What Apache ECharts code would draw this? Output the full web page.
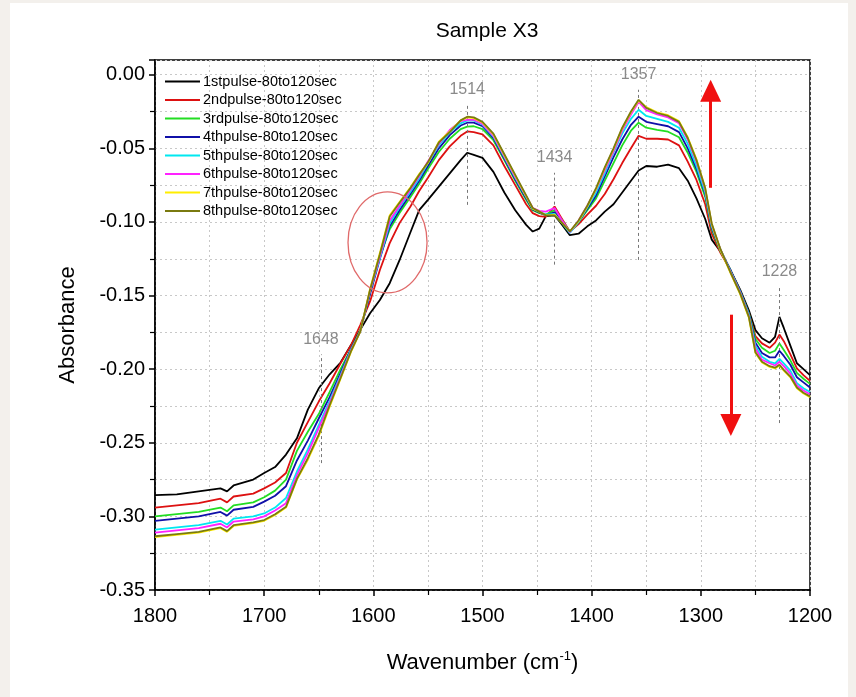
<!DOCTYPE html>
<html>
<head>
<meta charset="utf-8">
<script src="https://cdn.jsdelivr.net/npm/echarts@6/dist/echarts.min.js"></script>
<style>
html,body{margin:0;padding:0;background:#f3f0ec;}
#c{width:856px;height:697px;}
</style>
</head>
<body>
<div id="c"></div>
<script>
// Wavenumbers (cm-1)
const wavenumbers = [1800,1780,1760,1740,1734,1728,1710,1700,1690,1680,1670,1660,1650,1640,1630,1620,1612,1603,1594,1585,1576,1566,1558,1550,1540,1530,1520,1514,1508,1500,1490,1480,1470,1460,1454,1448,1442,1434,1428,1420,1412,1404,1396,1388,1380,1372,1364,1357,1350,1340,1330,1320,1312,1304,1296,1290,1282,1273,1264,1256,1250,1244,1237,1232,1228,1224,1218,1212,1206,1200];

const seriesNames = ["1stpulse-80to120sec","2ndpulse-80to120sec","3rdpulse-80to120sec","4thpulse-80to120sec","5thpulse-80to120sec","6thpulse-80to120sec","7thpulse-80to120sec","8thpulse-80to120sec"];

const pulse1 = [-0.2855,-0.285,-0.283,-0.281,-0.283,-0.279,-0.275,-0.2705,-0.2665,-0.258,-0.247,-0.2275,-0.213,-0.2035,-0.1955,-0.183,-0.1733,-0.162,-0.153,-0.1416,-0.126,-0.107,-0.092,-0.085,-0.076,-0.067,-0.058,-0.053,-0.0545,-0.0565,-0.066,-0.080,-0.092,-0.102,-0.1065,-0.1045,-0.096,-0.0955,-0.101,-0.109,-0.108,-0.103,-0.099,-0.093,-0.088,-0.080,-0.072,-0.065,-0.062,-0.0625,-0.061,-0.0635,-0.072,-0.084,-0.098,-0.112,-0.120,-0.1325,-0.146,-0.160,-0.1735,-0.179,-0.182,-0.178,-0.1645,-0.172,-0.184,-0.196,-0.200,-0.204];
const pulse2 = [-0.294,-0.2925,-0.291,-0.288,-0.2905,-0.2865,-0.2845,-0.281,-0.277,-0.2705,-0.250,-0.236,-0.222,-0.2096,-0.196,-0.183,-0.170,-0.154,-0.1326,-0.1144,-0.1008,-0.0895,-0.079,-0.070,-0.058,-0.0487,-0.0415,-0.0385,-0.039,-0.0405,-0.048,-0.062,-0.075,-0.088,-0.094,-0.096,-0.0965,-0.0895,-0.097,-0.1065,-0.1015,-0.095,-0.089,-0.081,-0.071,-0.060,-0.050,-0.0415,-0.0435,-0.0435,-0.044,-0.048,-0.059,-0.0715,-0.088,-0.108,-0.121,-0.1325,-0.147,-0.162,-0.1775,-0.1825,-0.1855,-0.182,-0.1765,-0.181,-0.190,-0.1995,-0.204,-0.208];
const pulse3 = [-0.300,-0.2985,-0.297,-0.294,-0.2965,-0.2925,-0.2905,-0.287,-0.2825,-0.275,-0.2555,-0.2425,-0.2305,-0.2155,-0.200,-0.1855,-0.1735,-0.148,-0.1235,-0.105,-0.094,-0.083,-0.074,-0.064,-0.0525,-0.0435,-0.037,-0.0353,-0.035,-0.037,-0.0445,-0.058,-0.072,-0.085,-0.092,-0.094,-0.095,-0.092,-0.098,-0.1065,-0.100,-0.092,-0.084,-0.072,-0.060,-0.048,-0.038,-0.0326,-0.036,-0.0375,-0.0387,-0.0425,-0.053,-0.066,-0.083,-0.105,-0.120,-0.1325,-0.147,-0.162,-0.1795,-0.1855,-0.189,-0.1875,-0.1825,-0.187,-0.194,-0.2025,-0.2065,-0.210];
const pulse4 = [-0.303,-0.3015,-0.300,-0.297,-0.2995,-0.2955,-0.2935,-0.290,-0.286,-0.2795,-0.262,-0.2485,-0.2335,-0.219,-0.2025,-0.1855,-0.174,-0.149,-0.125,-0.103,-0.092,-0.081,-0.072,-0.062,-0.050,-0.041,-0.0345,-0.0326,-0.0325,-0.035,-0.043,-0.057,-0.071,-0.084,-0.0915,-0.0935,-0.0955,-0.0935,-0.099,-0.107,-0.100,-0.091,-0.082,-0.069,-0.056,-0.044,-0.034,-0.0285,-0.032,-0.0335,-0.035,-0.039,-0.050,-0.064,-0.081,-0.104,-0.119,-0.1325,-0.147,-0.1625,-0.182,-0.189,-0.192,-0.192,-0.1875,-0.191,-0.197,-0.2055,-0.209,-0.2125];
const pulse5 = [-0.309,-0.3075,-0.306,-0.303,-0.3055,-0.3015,-0.300,-0.298,-0.294,-0.2875,-0.2695,-0.2545,-0.238,-0.2215,-0.204,-0.186,-0.1745,-0.147,-0.1245,-0.101,-0.090,-0.0795,-0.0705,-0.060,-0.048,-0.039,-0.033,-0.031,-0.031,-0.034,-0.042,-0.056,-0.070,-0.083,-0.091,-0.093,-0.095,-0.0945,-0.100,-0.1075,-0.100,-0.090,-0.080,-0.067,-0.053,-0.040,-0.030,-0.0238,-0.028,-0.030,-0.032,-0.036,-0.047,-0.062,-0.080,-0.103,-0.119,-0.133,-0.1475,-0.163,-0.184,-0.1915,-0.195,-0.196,-0.193,-0.196,-0.201,-0.2095,-0.213,-0.2155];
const pulse6 = [-0.311,-0.3095,-0.308,-0.305,-0.3075,-0.3035,-0.302,-0.300,-0.296,-0.291,-0.272,-0.257,-0.240,-0.223,-0.205,-0.1865,-0.1745,-0.1465,-0.1235,-0.099,-0.089,-0.078,-0.069,-0.059,-0.047,-0.0375,-0.0315,-0.0306,-0.0305,-0.0335,-0.0415,-0.0555,-0.0695,-0.0825,-0.0905,-0.0925,-0.093,-0.0905,-0.098,-0.107,-0.099,-0.089,-0.078,-0.065,-0.052,-0.038,-0.027,-0.0185,-0.024,-0.027,-0.029,-0.033,-0.044,-0.059,-0.078,-0.102,-0.119,-0.1335,-0.148,-0.164,-0.186,-0.1935,-0.196,-0.1975,-0.195,-0.198,-0.203,-0.211,-0.2145,-0.217];
const pulse7 = [-0.314,-0.3125,-0.311,-0.308,-0.3105,-0.3065,-0.3045,-0.303,-0.299,-0.294,-0.275,-0.2615,-0.2455,-0.2255,-0.2065,-0.1875,-0.1745,-0.1455,-0.121,-0.0955,-0.0865,-0.0765,-0.0675,-0.060,-0.0455,-0.0385,-0.031,-0.029,-0.0295,-0.0325,-0.0405,-0.0545,-0.0685,-0.0825,-0.091,-0.093,-0.0955,-0.095,-0.100,-0.1065,-0.0995,-0.0895,-0.0775,-0.0635,-0.0505,-0.0365,-0.0255,-0.0175,-0.022,-0.0255,-0.0275,-0.0315,-0.0425,-0.0575,-0.077,-0.1015,-0.119,-0.1345,-0.149,-0.165,-0.189,-0.1955,-0.1985,-0.1995,-0.1975,-0.201,-0.2055,-0.213,-0.2165,-0.219];
const pulse8 = [-0.3135,-0.312,-0.3105,-0.3075,-0.310,-0.306,-0.304,-0.3025,-0.2985,-0.2935,-0.2745,-0.2605,-0.2445,-0.2245,-0.206,-0.187,-0.1745,-0.146,-0.122,-0.0963,-0.087,-0.077,-0.068,-0.0595,-0.046,-0.039,-0.031,-0.0285,-0.029,-0.032,-0.040,-0.054,-0.068,-0.082,-0.0905,-0.093,-0.0955,-0.0955,-0.100,-0.1065,-0.099,-0.089,-0.077,-0.063,-0.050,-0.036,-0.025,-0.017,-0.0225,-0.026,-0.028,-0.032,-0.043,-0.058,-0.077,-0.101,-0.1185,-0.134,-0.1485,-0.1645,-0.1885,-0.195,-0.198,-0.199,-0.197,-0.2005,-0.205,-0.2125,-0.216,-0.2185];

const allPulses = [pulse1,pulse2,pulse3,pulse4,pulse5,pulse6,pulse7,pulse8];
const colors = ['#000000','#dd1111','#22dd22','#1010a8','#00e8f0','#ff22ff','#ffee00','#7a7a10'];

// Peak annotations: wavenumber, dashed line from (bottom) to (top) absorbance
const peakLabels = ['1648','1514','1434','1357','1228'];
const peakWn = [1648,1514,1434,1357,1228];
const peakLineBottom = [-0.2638,-0.0884,-0.129,-0.1258,-0.2366];
const peakLineTop = [-0.190,-0.0204,-0.0666,-0.0102,-0.144];

// Arrows: wavenumber, from, to
const arrowWn = [1291,1272.5];
const arrowFrom = [-0.0768,-0.163];
const arrowTo = [-0.0109,-0.238];

// Highlight ellipse: centre and half spans in data units
const ellipseCentre = [1587,-0.1139];
const ellipseHalf = [36.2,0.0343];

const chart = echarts.init(document.getElementById('c'));
const font = 'Liberation Sans, Arial, sans-serif';

const series = allPulses.map((arr,i)=>({
  name: seriesNames[i],
  type: 'line',
  data: wavenumbers.map((w,j)=>[w,arr[j]]),
  symbol: 'none',
  smooth: false,
  lineStyle: {width: 1.8, color: colors[i]},
  itemStyle: {color: colors[i]},
  z: 2 + i,
  animation: false
}));

series.push({
  name: 'annot',
  type: 'line',
  data: [],
  silent: true,
  animation: false,
  markLine: {
    silent: true,
    animation: false,
    symbol: ['none','none'],
    lineStyle: {color: '#777', type: [3,3], width: 1},
    label: {show: true, position: 'end', distance: 7, color: '#8a8a8a', fontSize: 16, fontFamily: font},
    data: peakWn.map((w,i)=>[
      {coord:[w, peakLineBottom[i]]},
      {coord:[w, peakLineTop[i]], label:{formatter: peakLabels[i]}}
    ])
  }
});
series.push({
  name: 'arrows',
  type: 'line',
  data: [],
  silent: true,
  animation: false,
  z: 20,
  markLine: {
    silent: true,
    animation: false,
    symbol: ['none','triangle'],
    symbolSize: [21, 22],
    lineStyle: {color: '#f01010', type: 'solid', width: 3},
    itemStyle: {color: '#f01010'},
    label: {show: false},
    data: arrowWn.map((w,i)=>[{coord:[w, arrowFrom[i]]},{coord:[w, arrowTo[i]]}])
  }
});

chart.setOption({
  backgroundColor: '#f3f0ec',
  animation: false,
  graphic: [{type:'rect', id:'bgpanel', shape:{x:10,y:3,width:838,height:694}, style:{fill:'#ffffff'}, z:-10, silent:true}],
  title: {
    text: 'Sample X3', left: 482, top: 16, textAlign: 'center',
    textStyle: {fontFamily: font, fontSize: 21, fontWeight: 'normal', color: '#000'}
  },
  legend: {
    data: seriesNames,
    orient: 'vertical', left: 160, top: 69,
    itemWidth: 35, itemHeight: 12, itemGap: 3.5,
    textStyle: {fontFamily: font, fontSize: 14.5, color: '#000', padding:[0,0,0,-2]},
    icon: 'path://M0,5 L35,5 L35,7 L0,7 Z'
  },
  grid: {left: 155, right: 46, top: 60, bottom: 107, show: true, borderColor: '#000', borderWidth: 1.5, backgroundColor: 'transparent'},
  xAxis: {
    type: 'value', inverse: true, min: 1200, max: 1800, interval: 100,
    name: '{a|Wavenumber (cm}{s|-1}{a|)}', nameLocation: 'middle', nameGap: 60,
    nameTextStyle: {rich: {a:{fontFamily: font, fontSize: 22, color:'#000', lineHeight: 26}, s:{fontFamily: font, fontSize: 13, color:'#000', verticalAlign:'top', lineHeight: 12}}},
    axisLine: {show: true, onZero: false, lineStyle: {color: '#000', width: 1.5}},
    axisTick: {show: true, length: 6, lineStyle: {color: '#000', width: 1.5}},
    minorTick: {show: true, splitNumber: 2, length: 5, lineStyle: {color: '#000', width: 1.2}},
    axisLabel: {fontFamily: font, fontSize: 20, color: '#000', margin: 16, formatter: v => String(v)},
    splitLine: {show: true, lineStyle: {color: '#c8c8c8', type: [2,3], width: 1}},
    minorSplitLine: {show: true, lineStyle: {color: '#c8c8c8', type: [2,3], width: 1}}
  },
  yAxis: {
    type: 'value', min: -0.35, max: 0.01, interval: 0.05,
    name: 'Absorbance', nameLocation: 'middle', nameGap: 76, nameRotate: 90,
    nameTextStyle: {fontFamily: font, fontSize: 22, color: '#000'},
    axisLine: {show: true, onZero: false, lineStyle: {color: '#000', width: 1.5}},
    axisTick: {show: true, length: 6, lineStyle: {color: '#000', width: 1.5}},
    minorTick: {show: true, splitNumber: 2, length: 5, lineStyle: {color: '#000', width: 1.2}},
    axisLabel: {fontFamily: font, fontSize: 20, color: '#000', margin: 10, showMaxLabel: false,
      formatter: v => { const s = Number(v).toFixed(2); return s === '-0.00' ? '0.00' : s; }},
    splitLine: {show: true, lineStyle: {color: '#c8c8c8', type: [2,3], width: 1}},
    minorSplitLine: {show: true, lineStyle: {color: '#c8c8c8', type: [2,3], width: 1}}
  },
  series: series
});

// Ellipse highlight positioned in data space
const c = chart.convertToPixel({gridIndex:0}, ellipseCentre);
const e = chart.convertToPixel({gridIndex:0}, [ellipseCentre[0]-ellipseHalf[0], ellipseCentre[1]+ellipseHalf[1]]);
chart.setOption({
  graphic: [{type:'ellipse', id:'circ', shape:{cx:c[0], cy:c[1], rx:Math.abs(e[0]-c[0]), ry:Math.abs(e[1]-c[1])},
    style:{fill:'none', stroke:'#e06a6a', lineWidth:1.3}, z:100, silent:true}]
});
</script>
</body>
</html>
